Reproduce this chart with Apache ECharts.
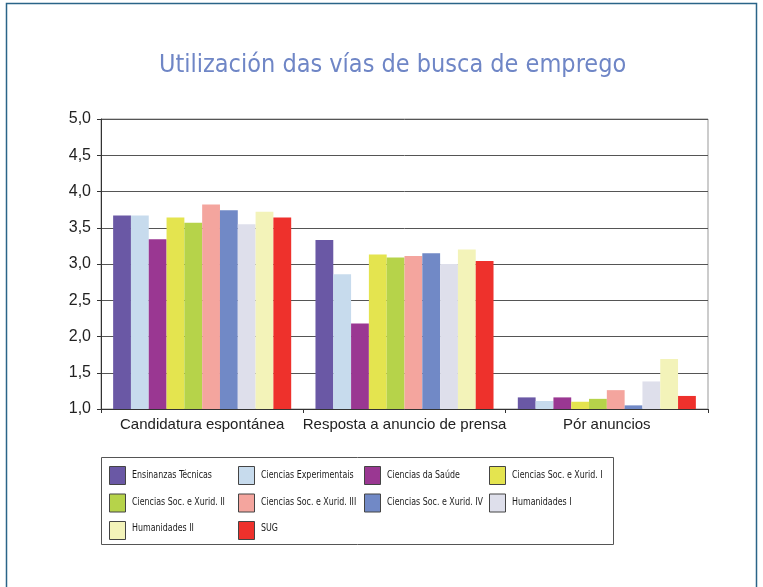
<!DOCTYPE html>
<html>
<head>
<meta charset="utf-8">
<script src="https://cdn.jsdelivr.net/npm/echarts@6/dist/echarts.min.js"></script>
<style>
  html, body { margin: 0; padding: 0; background: #ffffff; }
  #chart { width: 763px; height: 587px; }
</style>
</head>
<body>
<div id="chart"></div>
<script>
// Job-search channels, mean score per degree area
const categories = ['Candidatura espontánea', 'Resposta a anuncio de prensa', 'Pór anuncios'];

const seriesNames = [
  'Ensinanzas Técnicas', 'Ciencias Experimentais', 'Ciencias da Saúde', 'Ciencias Soc. e Xurid. I',
  'Ciencias Soc. e Xurid. II', 'Ciencias Soc. e Xurid. III', 'Ciencias Soc. e Xurid. IV', 'Humanidades I',
  'Humanidades II', 'SUG'
];

const ensinanzasTecnicas   = [3.67, 3.33, 1.16];
const cienciasExperiment   = [3.67, 2.86, 1.11];
const cienciasSaude        = [3.34, 2.18, 1.16];
const cienciasSocXurid1    = [3.64, 3.13, 1.10];
const cienciasSocXurid2    = [3.57, 3.09, 1.14];
const cienciasSocXurid3    = [3.82, 3.11, 1.26];
const cienciasSocXurid4    = [3.74, 3.15, 1.05];
const humanidades1         = [3.55, 3.00, 1.38];
const humanidades2         = [3.72, 3.20, 1.69];
const sug                  = [3.64, 3.04, 1.18];

const seriesValues = [
  ensinanzasTecnicas, cienciasExperiment, cienciasSaude, cienciasSocXurid1, cienciasSocXurid2,
  cienciasSocXurid3, cienciasSocXurid4, humanidades1, humanidades2, sug
];

const colors = ['#6a58a5', '#c7dbed', '#9a3792', '#e4e44f', '#b6d34a',
                '#f4a59e', '#7189c6', '#dedfeb', '#f3f3b9', '#ee312c'];

// legend layout: four columns, three rows
const legendColumns = [
  [seriesNames[0], seriesNames[4], seriesNames[8]],
  [seriesNames[1], seriesNames[5], seriesNames[9]],
  [seriesNames[2], seriesNames[6]],
  [seriesNames[3], seriesNames[7]]
];
const legendLeft = [109, 238, 364, 489];
const legendTop = 466;
const legendRowStep = 26.5;

const narrow = "'DejaVu Sans Condensed', 'Liberation Sans Narrow', sans-serif";

// legend labels are set in a horizontally condensed face
const legendLabels = [];
legendColumns.forEach((col, c) => {
  col.forEach((name, r) => {
    legendLabels.push({
      type: 'text',
      x: legendLeft[c] + 23,
      y: legendTop + 9.5 + r * legendRowStep,
      scaleX: 0.8,
      silent: true,
      style: {
        text: name, fill: '#1a1a1a', font: "11px " + narrow,
        verticalAlign: 'middle', textVerticalAlign: 'middle'
      }
    });
  });
});

const chart = echarts.init(document.getElementById('chart'), null, { renderer: 'canvas' });

chart.setOption({
  animation: false,
  backgroundColor: '#ffffff',
  color: colors,
  title: {
    text: 'Utilización das vías de busca de emprego',
    left: 159,
    top: 53,
    padding: 0,
    textStyle: { color: '#6f86c6', fontSize: 25, fontWeight: 'normal', fontFamily: narrow }
  },
  graphic: [
    { type: 'rect', shape: { x: 6.5, y: 3.5, width: 750, height: 600 },
      style: { fill: 'none', stroke: '#2a6488', lineWidth: 1.5 }, silent: true },
    { type: 'rect', shape: { x: 101.5, y: 457.5, width: 512, height: 87 },
      style: { fill: 'none', stroke: '#555', lineWidth: 1 }, silent: true }
  ].concat(legendLabels),
  legend: legendColumns.map((col, i) => ({
    data: col,
    orient: 'vertical',
    left: legendLeft[i],
    top: legendTop,
    padding: 0,
    itemWidth: 16,
    itemHeight: 18,
    itemGap: legendRowStep - 18,
    icon: 'rect',
    selectedMode: false,
    formatter: () => '',
    itemStyle: { borderColor: '#444', borderWidth: 1 },
    textStyle: { fontSize: 12, color: '#222', fontFamily: narrow }
  })),
  grid: {
    left: 101, right: 55, top: 119, bottom: 178,
    show: true, borderColor: '#999', borderWidth: 1
  },
  xAxis: {
    type: 'category',
    data: categories,
    axisLine: { lineStyle: { color: '#333', width: 1 } },
    axisTick: { show: true, length: 4, lineStyle: { color: '#333' } },
    axisLabel: { interval: 0, fontSize: 15, color: '#222', margin: 8, fontFamily: "'Liberation Sans', sans-serif" }
  },
  yAxis: {
    type: 'value',
    min: 1, max: 5, interval: 0.5,
    axisLine: { show: true, lineStyle: { color: '#333' } },
    axisTick: { show: true, length: 4, lineStyle: { color: '#333' } },
    splitLine: { lineStyle: { color: '#555', width: 1 } },
    axisLabel: {
      fontSize: 16, color: '#222', margin: 10, fontFamily: "'Liberation Sans', sans-serif",
      formatter: v => v.toFixed(1).replace('.', ',')
    }
  },
  series: seriesNames.map((name, i) => ({
    name: name,
    type: 'bar',
    data: seriesValues[i],
    barGap: '0%',
    barCategoryGap: '12%',
    itemStyle: { color: colors[i] }
  }))
});
</script>
</body>
</html>
